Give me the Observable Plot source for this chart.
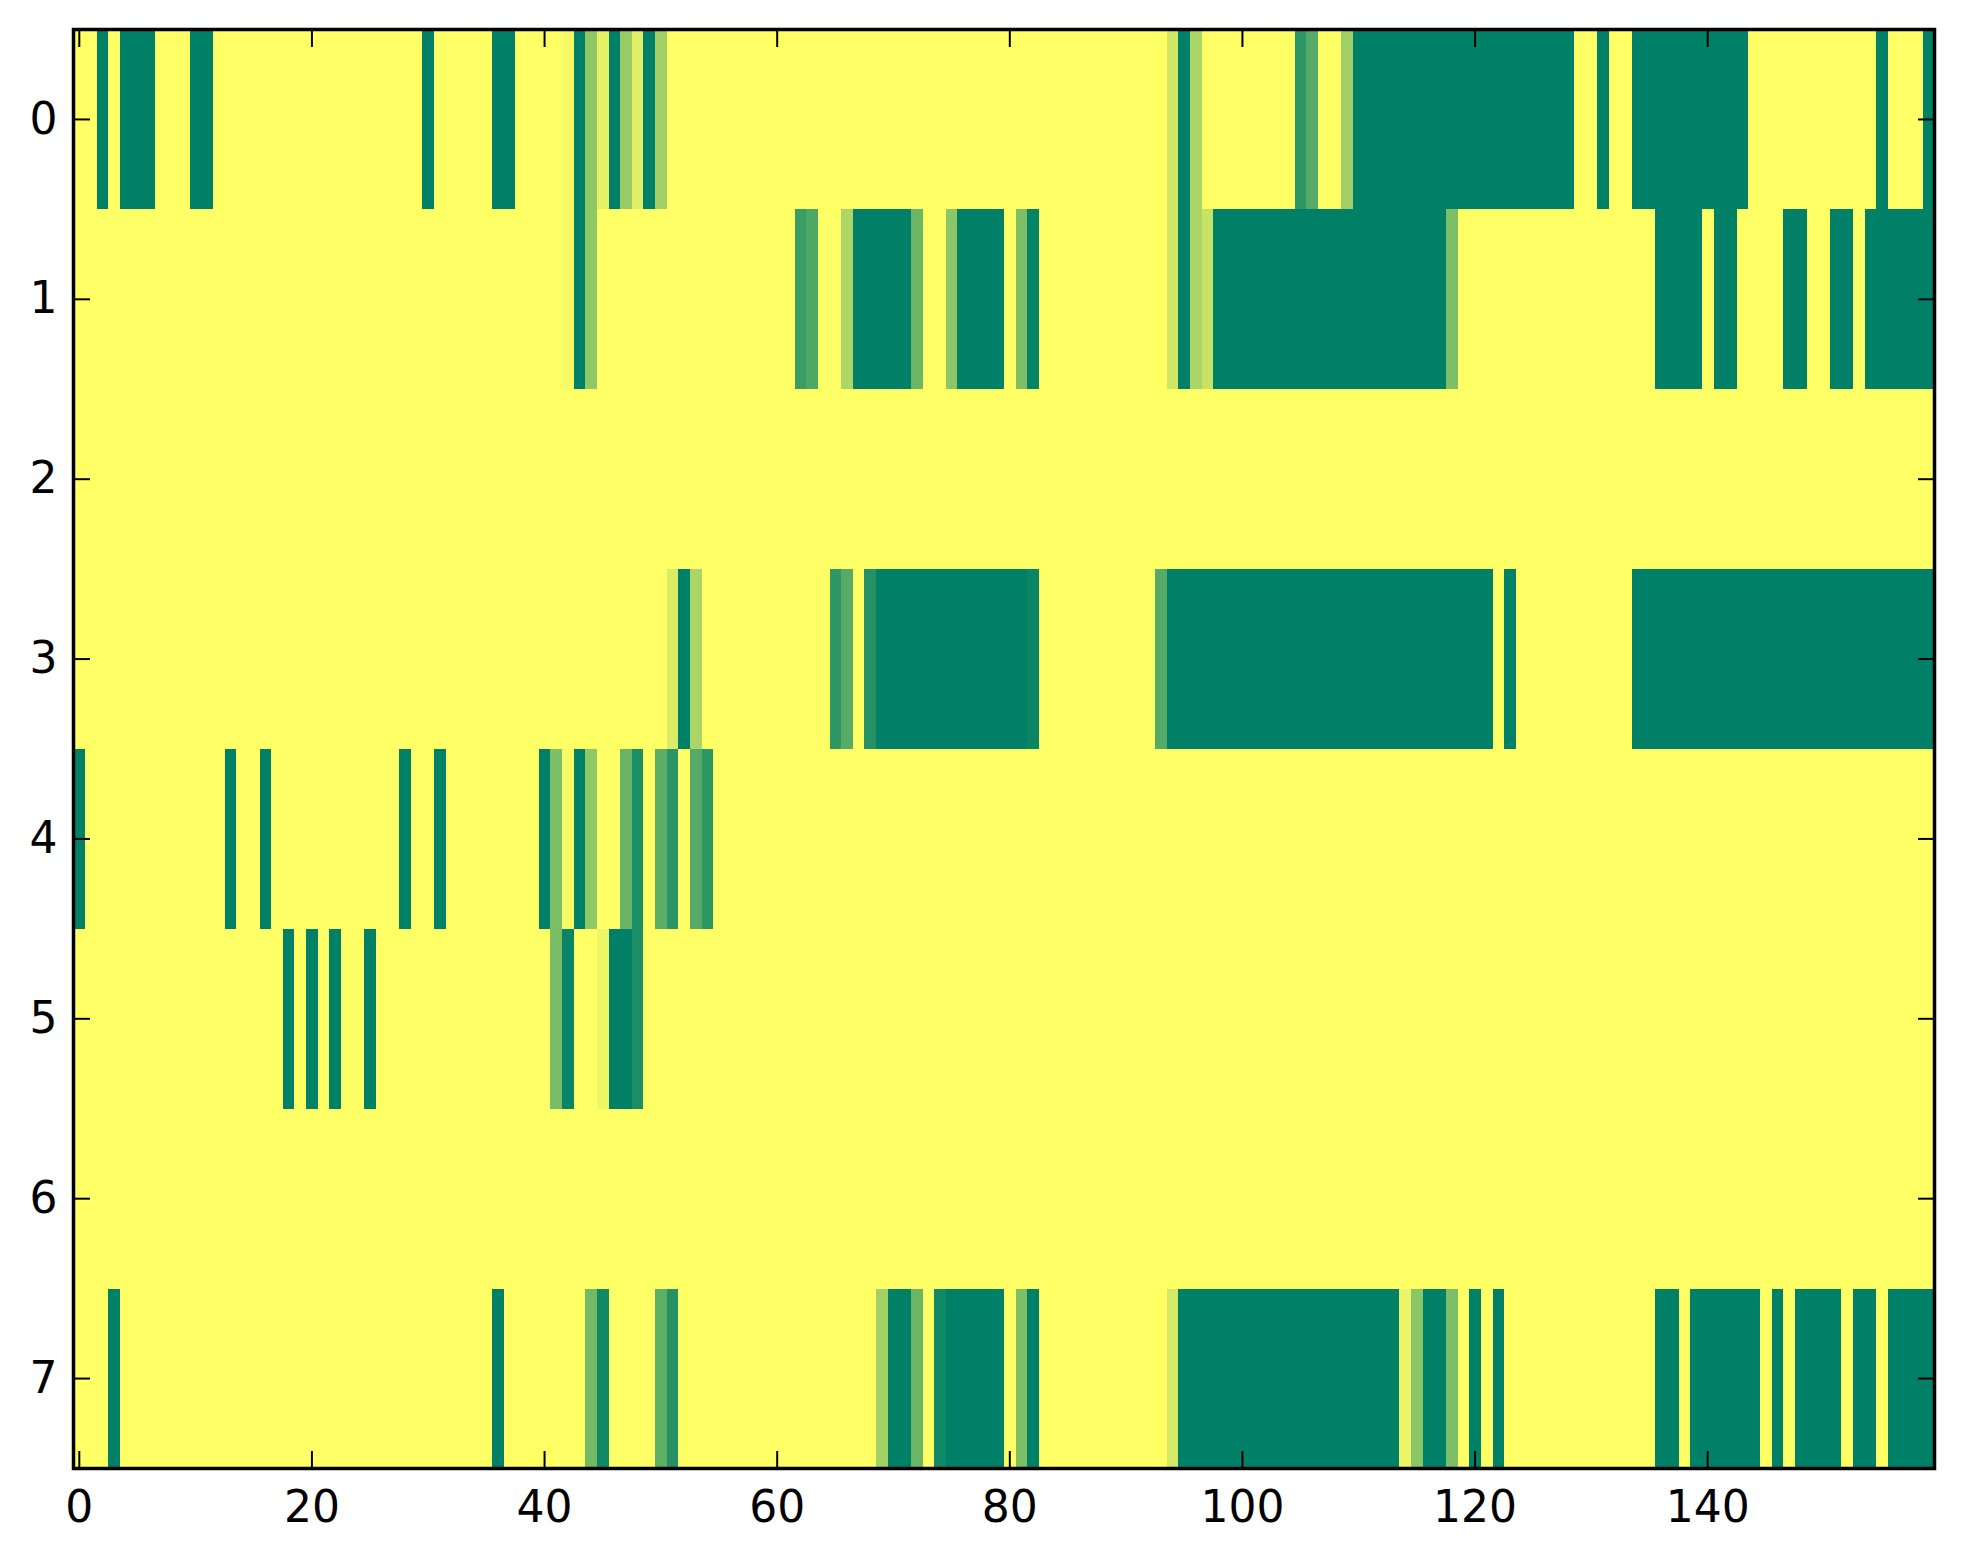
<!DOCTYPE html>
<html>
<head>
<meta charset="utf-8">
<script src="https://cdn.jsdelivr.net/npm/d3@7"></script>
<script src="https://cdn.jsdelivr.net/npm/@observablehq/plot@0.6"></script>
<style>
  html, body { margin: 0; padding: 0; background: #ffffff; }
  #chart svg { display: block; }
</style>
</head>
<body>
<div id="chart"></div>
<script>
// Grid: 8 rows x 160 columns. Every cell is 1 (yellow) unless listed below.
// Each entry: [firstColumn, lastColumn, value]
const nCols = 160;
const nRows = 8;
const row0 = [[2,2,0],[4,6,0],[10,11,0],[30,30,0],[36,37,0],[42,42,0.96],[43,43,0],[44,44,0.57],[45,45,0.9],[46,46,0],[47,47,0.6],[48,48,0.88],[49,49,0],[50,50,0.63],[94,94,0.82],[95,95,0],[96,96,0.67],[105,105,0.18],[106,106,0.33],[109,109,0.63],[110,128,0],[131,131,0],[134,143,0],[155,155,0],[159,159,0]];
const row1 = [[42,42,0.96],[43,43,0],[44,44,0.57],[62,62,0.23],[63,63,0.31],[66,66,0.68],[67,71,0],[72,72,0.42],[75,75,0.55],[76,79,0],[81,81,0.49],[82,82,0.02],[94,94,0.82],[95,95,0],[96,96,0.67],[97,97,0.78],[98,117,0],[118,118,0.49],[136,139,0],[141,142,0],[147,148,0],[151,152,0],[154,159,0]];
const row2 = [];
const row3 = [[51,51,0.86],[52,52,0],[53,53,0.67],[65,65,0.18],[66,66,0.34],[68,68,0.14],[69,81,0],[82,82,0.04],[93,93,0.33],[94,121,0],[123,123,0],[134,159,0]];
const row4 = [[0,0,0],[13,13,0],[16,16,0],[28,28,0],[31,31,0],[40,40,0],[41,41,0.49],[42,42,0.96],[43,43,0],[44,44,0.57],[47,47,0.41],[48,48,0.11],[50,50,0.36],[51,51,0.16],[53,53,0.33],[54,54,0.18]];
const row5 = [[18,18,0],[20,20,0],[22,22,0],[25,25,0],[41,41,0.48],[42,42,0.03],[45,45,0.93],[46,47,0],[48,48,0.11]];
const row6 = [];
const row7 = [[3,3,0],[36,36,0],[44,44,0.45],[45,45,0.07],[50,50,0.37],[51,51,0.14],[69,69,0.64],[70,71,0],[72,72,0.42],[74,74,0.07],[75,79,0],[81,81,0.49],[82,82,0],[94,94,0.83],[95,113,0],[114,114,0.92],[115,115,0.54],[116,117,0],[118,118,0.49],[120,120,0],[122,122,0],[136,137,0],[139,144,0],[146,146,0],[148,151,0],[153,154,0],[156,159,0]];
const baseValue = 1;
const xTicks = [0, 20, 40, 60, 80, 100, 120, 140];
const yTicks = [0, 1, 2, 3, 4, 5, 6, 7];

// Build the row-major grid from the lists above
const rows = [row0, row1, row2, row3, row4, row5, row6, row7];
const grid = [];
rows.forEach(runs => {
  const line = new Array(nCols).fill(baseValue);
  runs.forEach(([a, b, v]) => { for (let c = a; c <= b; c++) line[c] = v; });
  grid.push(...line);
});

const font = "DejaVu Sans";
const fs = 44;
const tick = 17;
const intFmt = d => String(d);

const chart = Plot.plot({
  width: 1963,
  height: 1564,
  marginLeft: 73,
  marginRight: 29,
  marginTop: 29,
  marginBottom: 96,
  style: {fontFamily: font, fontSize: fs + "px", color: "black", background: "white"},
  x: {domain: [-0.5, nCols - 0.5], label: null},
  y: {domain: [-0.5, nRows - 0.5], reverse: true, label: null},
  color: {type: "linear", domain: [0, 1], range: ["#008066", "#ffff66"], interpolate: "rgb"},
  marks: [
    Plot.raster(grid, {
      width: nCols, height: nRows,
      x1: -0.5, x2: nCols - 0.5, y1: -0.5, y2: nRows - 0.5,
      fill: d => d,
      imageRendering: "pixelated"
    }),
    Plot.axisX(xTicks, {anchor: "bottom", tickSize: -tick, tickFormat: () => "", strokeWidth: 2, label: null}),
    Plot.axisX(xTicks, {anchor: "top", tickSize: -tick, tickFormat: () => "", strokeWidth: 2, label: null}),
    Plot.axisY(yTicks, {anchor: "left", tickSize: -tick, tickFormat: () => "", strokeWidth: 2, label: null}),
    Plot.axisY(yTicks, {anchor: "right", tickSize: -tick, tickFormat: () => "", strokeWidth: 2, label: null}),
    Plot.axisX(xTicks, {anchor: "bottom", tickSize: 0, tickPadding: 22, fontSize: fs, tickFormat: intFmt, label: null}),
    Plot.axisY(yTicks, {anchor: "left", tickSize: 0, tickPadding: 16, fontSize: fs, tickFormat: intFmt, label: null}),
    Plot.frame({stroke: "black", strokeWidth: 3.5})
  ]
});
document.getElementById("chart").appendChild(chart);
</script>
</body>
</html>
